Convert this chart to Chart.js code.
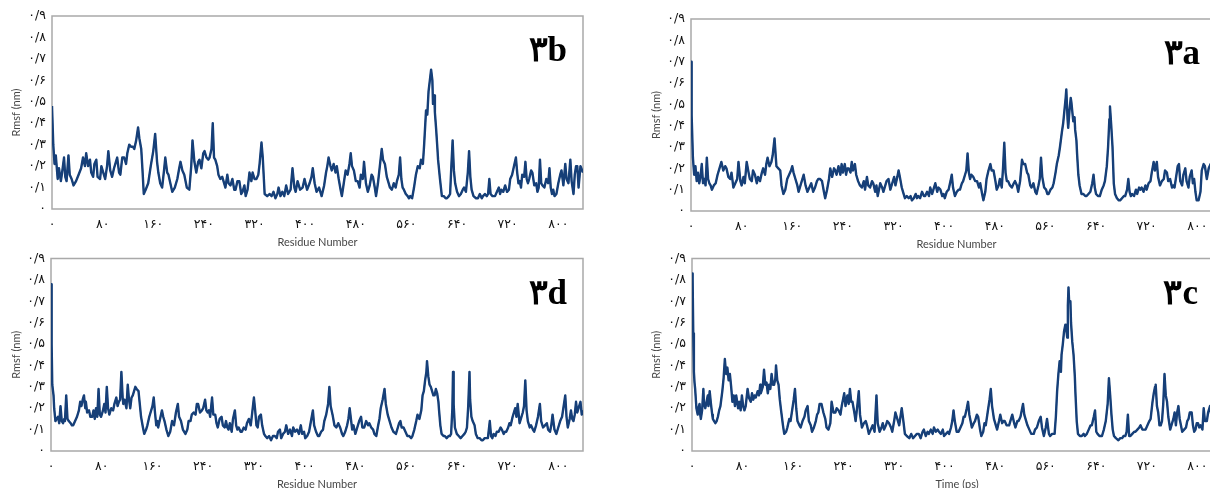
<!DOCTYPE html>
<html>
<head>
<meta charset="utf-8">
<script src="https://cdn.jsdelivr.net/npm/chart.js@4.4.1/dist/chart.umd.min.js"></script>
<style>
  html, body { margin: 0; padding: 0; background: #fff; width: 1210px; height: 488px; overflow: hidden; }
  .panel { position: absolute; }
</style>
</head>
<body>
<canvas id="c3b" class="panel" width="600" height="250" style="left:0;top:0"></canvas>
<canvas id="c3a" class="panel" width="600" height="252" style="left:640px;top:0"></canvas>
<canvas id="c3d" class="panel" width="600" height="247" style="left:0;top:245px"></canvas>
<canvas id="c3c" class="panel" width="600" height="247" style="left:640px;top:245px"></canvas>
<script>
// tick labels (Persian digits, as in the figure)
const xTickValues = [0, 80, 160, 240, 320, 400, 480, 560, 640, 720, 800];
const xTickLabels = ['۰', '۸۰', '۱۶۰', '۲۴۰', '۳۲۰', '۴۰۰', '۴۸۰', '۵۶۰', '۶۴۰', '۷۲۰', '۸۰۰'];
const yTickValues = [0, 0.1, 0.2, 0.3, 0.4, 0.5, 0.6, 0.7, 0.8, 0.9];
const yTickLabels = ['۰', '۰/۱', '۰/۲', '۰/۳', '۰/۴', '۰/۵', '۰/۶', '۰/۷', '۰/۸', '۰/۹'];

// [residue, rmsf nm]
const rmsf3b = [[0,0.48],[2,0.30],[4,0.21],[6,0.25],[9,0.14],[11,0.19],[14,0.13],[16,0.17],[19,0.24],[21,0.15],[23,0.13],[26,0.25],[28,0.16],[31,0.14],[34,0.11],[38,0.13],[42,0.16],[46,0.19],[49,0.24],[52,0.20],[54,0.26],[57,0.20],[60,0.23],[62,0.17],[65,0.15],[67,0.21],[70,0.23],[72,0.15],[76,0.14],[78,0.20],[81,0.17],[84,0.14],[87,0.20],[89,0.27],[92,0.18],[95,0.15],[98,0.19],[101,0.22],[103,0.24],[106,0.17],[108,0.16],[111,0.24],[114,0.24],[117,0.21],[119,0.26],[122,0.30],[125,0.29],[128,0.29],[130,0.28],[133,0.32],[136,0.38],[138,0.33],[141,0.28],[143,0.18],[145,0.07],[148,0.09],[152,0.12],[156,0.20],[160,0.27],[163,0.35],[166,0.22],[168,0.17],[171,0.12],[174,0.10],[177,0.18],[179,0.24],[182,0.17],[184,0.16],[187,0.12],[190,0.08],[194,0.10],[198,0.14],[201,0.19],[203,0.22],[206,0.18],[209,0.16],[213,0.10],[217,0.09],[220,0.20],[222,0.32],[225,0.22],[228,0.17],[231,0.22],[233,0.23],[236,0.19],[239,0.26],[241,0.27],[244,0.24],[247,0.23],[249,0.24],[252,0.28],[254,0.40],[256,0.24],[258,0.23],[261,0.20],[263,0.16],[266,0.14],[269,0.15],[271,0.13],[274,0.10],[277,0.16],[279,0.12],[282,0.11],[285,0.14],[288,0.09],[290,0.09],[293,0.13],[296,0.13],[299,0.07],[301,0.08],[304,0.11],[306,0.06],[309,0.09],[312,0.17],[315,0.13],[317,0.17],[320,0.14],[323,0.14],[326,0.16],[328,0.21],[331,0.31],[333,0.24],[336,0.07],[340,0.06],[344,0.07],[347,0.06],[350,0.08],[353,0.05],[356,0.07],[358,0.10],[361,0.06],[364,0.08],[367,0.06],[370,0.11],[373,0.07],[377,0.09],[380,0.19],[383,0.10],[385,0.08],[388,0.13],[392,0.09],[396,0.10],[399,0.14],[403,0.09],[407,0.12],[410,0.15],[412,0.19],[415,0.12],[418,0.08],[422,0.10],[426,0.06],[430,0.11],[433,0.17],[435,0.20],[437,0.24],[440,0.20],[442,0.18],[445,0.21],[448,0.17],[450,0.20],[453,0.14],[456,0.09],[458,0.06],[461,0.12],[464,0.18],[467,0.16],[470,0.21],[472,0.26],[474,0.20],[477,0.18],[480,0.13],[483,0.13],[486,0.10],[488,0.16],[491,0.14],[493,0.22],[496,0.12],[499,0.08],[502,0.11],[505,0.16],[507,0.15],[510,0.10],[512,0.06],[515,0.12],[518,0.20],[521,0.28],[523,0.23],[526,0.21],[529,0.15],[531,0.13],[534,0.10],[537,0.09],[540,0.12],[543,0.10],[545,0.13],[548,0.16],[550,0.24],[552,0.14],[554,0.10],[556,0.09],[559,0.07],[562,0.06],[564,0.05],[566,0.06],[569,0.05],[572,0.10],[575,0.16],[578,0.20],[581,0.19],[583,0.23],[586,0.21],[588,0.30],[591,0.46],[593,0.44],[595,0.55],[597,0.60],[599,0.65],[601,0.60],[602,0.49],[604,0.53],[605,0.45],[607,0.37],[609,0.28],[610,0.23],[613,0.14],[616,0.06],[619,0.06],[622,0.05],[624,0.05],[627,0.06],[629,0.07],[631,0.20],[633,0.32],[635,0.18],[637,0.12],[640,0.08],[643,0.06],[646,0.07],[649,0.09],[651,0.10],[654,0.08],[657,0.17],[659,0.27],[661,0.15],[663,0.09],[666,0.06],[670,0.05],[673,0.05],[676,0.07],[679,0.05],[681,0.06],[684,0.07],[687,0.06],[689,0.07],[691,0.14],[693,0.07],[696,0.06],[700,0.06],[703,0.08],[706,0.10],[708,0.07],[710,0.09],[713,0.08],[716,0.11],[719,0.08],[722,0.09],[724,0.14],[727,0.16],[730,0.20],[733,0.24],[735,0.17],[737,0.12],[739,0.13],[741,0.10],[743,0.16],[746,0.15],[748,0.22],[750,0.14],[752,0.12],[754,0.14],[757,0.18],[759,0.17],[762,0.11],[765,0.12],[767,0.08],[769,0.10],[771,0.23],[773,0.12],[775,0.11],[778,0.10],[781,0.14],[784,0.12],[786,0.19],[788,0.10],[790,0.07],[792,0.09],[794,0.06],[797,0.07],[800,0.12],[803,0.16],[805,0.18],[808,0.11],[811,0.21],[813,0.14],[816,0.12],[819,0.23],[821,0.13],[824,0.07],[826,0.16],[828,0.20],[830,0.20],[832,0.10],[835,0.20],[839,0.17]];

const rmsf3a = [[0,0.70],[1,0.45],[3,0.25],[5,0.17],[7,0.21],[9,0.14],[11,0.18],[13,0.13],[15,0.16],[17,0.22],[19,0.13],[21,0.15],[23,0.12],[25,0.25],[27,0.15],[29,0.13],[31,0.12],[33,0.10],[36,0.12],[39,0.13],[42,0.17],[45,0.20],[48,0.23],[51,0.19],[54,0.21],[56,0.20],[59,0.16],[62,0.15],[64,0.18],[67,0.11],[70,0.13],[73,0.15],[75,0.23],[78,0.14],[80,0.12],[83,0.16],[85,0.13],[88,0.23],[91,0.18],[93,0.15],[96,0.14],[98,0.19],[101,0.17],[104,0.13],[106,0.16],[109,0.14],[112,0.18],[114,0.20],[117,0.17],[119,0.22],[121,0.25],[124,0.21],[127,0.23],[129,0.26],[132,0.34],[134,0.25],[135,0.21],[138,0.20],[141,0.19],[143,0.12],[146,0.08],[149,0.10],[152,0.15],[155,0.17],[158,0.19],[160,0.21],[162,0.18],[165,0.15],[168,0.12],[170,0.09],[173,0.12],[176,0.15],[178,0.17],[181,0.12],[184,0.09],[187,0.11],[190,0.13],[193,0.09],[196,0.11],[199,0.14],[201,0.15],[204,0.15],[207,0.14],[210,0.09],[212,0.06],[215,0.10],[218,0.15],[220,0.20],[223,0.16],[226,0.20],[228,0.19],[230,0.17],[233,0.21],[236,0.17],[238,0.22],[240,0.18],[243,0.22],[245,0.17],[247,0.20],[249,0.20],[252,0.18],[254,0.23],[256,0.19],[259,0.22],[261,0.17],[264,0.14],[267,0.12],[270,0.11],[273,0.14],[275,0.10],[278,0.16],[280,0.12],[283,0.11],[286,0.14],[288,0.13],[291,0.09],[293,0.12],[295,0.07],[297,0.10],[299,0.13],[302,0.11],[304,0.09],[307,0.12],[309,0.14],[312,0.15],[315,0.10],[318,0.13],[321,0.16],[323,0.12],[326,0.16],[328,0.19],[330,0.16],[333,0.11],[335,0.09],[338,0.06],[341,0.07],[344,0.06],[347,0.07],[349,0.05],[352,0.06],[355,0.08],[357,0.06],[359,0.07],[362,0.06],[365,0.09],[368,0.07],[370,0.07],[373,0.09],[376,0.07],[378,0.11],[381,0.08],[383,0.10],[386,0.13],[389,0.09],[391,0.11],[394,0.10],[397,0.07],[399,0.08],[401,0.06],[404,0.09],[407,0.10],[410,0.14],[412,0.17],[414,0.11],[417,0.07],[420,0.09],[423,0.10],[425,0.10],[428,0.13],[430,0.14],[433,0.17],[435,0.19],[437,0.27],[439,0.18],[441,0.15],[443,0.17],[446,0.16],[449,0.14],[452,0.14],[455,0.11],[457,0.13],[460,0.08],[462,0.05],[465,0.09],[467,0.15],[470,0.19],[473,0.22],[475,0.19],[478,0.19],[481,0.14],[483,0.10],[486,0.12],[488,0.15],[491,0.11],[493,0.20],[495,0.32],[497,0.18],[499,0.14],[501,0.14],[504,0.12],[507,0.11],[510,0.13],[512,0.14],[515,0.12],[517,0.09],[520,0.14],[523,0.24],[525,0.22],[528,0.22],[531,0.18],[533,0.17],[536,0.12],[538,0.11],[541,0.13],[544,0.09],[546,0.08],[549,0.12],[551,0.15],[553,0.25],[555,0.16],[558,0.11],[561,0.10],[563,0.08],[565,0.08],[568,0.10],[571,0.11],[573,0.13],[576,0.18],[578,0.22],[581,0.26],[583,0.30],[586,0.37],[588,0.41],[590,0.47],[592,0.53],[593,0.57],[595,0.43],[596,0.39],[598,0.47],[600,0.53],[601,0.51],[603,0.45],[604,0.42],[606,0.44],[607,0.38],[609,0.33],[610,0.27],[612,0.17],[614,0.12],[617,0.08],[620,0.08],[623,0.07],[625,0.07],[628,0.08],[631,0.09],[634,0.13],[636,0.17],[638,0.11],[640,0.08],[643,0.07],[646,0.07],[649,0.10],[652,0.12],[654,0.14],[657,0.21],[659,0.30],[661,0.43],[662,0.49],[664,0.40],[666,0.30],[668,0.13],[670,0.08],[673,0.06],[676,0.05],[678,0.05],[681,0.06],[684,0.07],[686,0.07],[689,0.10],[691,0.15],[693,0.09],[695,0.07],[697,0.08],[700,0.07],[703,0.10],[705,0.08],[708,0.11],[710,0.10],[712,0.11],[715,0.09],[718,0.12],[720,0.10],[723,0.13],[726,0.14],[728,0.18],[731,0.23],[733,0.19],[736,0.23],[738,0.16],[741,0.12],[744,0.14],[747,0.15],[749,0.19],[752,0.18],[754,0.14],[757,0.15],[760,0.11],[762,0.12],[764,0.11],[767,0.17],[769,0.21],[771,0.22],[773,0.14],[776,0.12],[778,0.17],[781,0.20],[783,0.14],[786,0.11],[788,0.16],[791,0.19],[793,0.13],[795,0.15],[797,0.09],[799,0.05],[802,0.05],[805,0.09],[807,0.19],[810,0.22],[812,0.21],[815,0.15],[818,0.20],[821,0.22],[825,0.18],[830,0.20],[835,0.16],[839,0.19]];

const rmsf3d = [[0,0.78],[1,0.50],[2,0.31],[4,0.26],[5,0.20],[7,0.14],[9,0.15],[11,0.16],[13,0.13],[15,0.21],[17,0.14],[19,0.13],[21,0.15],[22,0.14],[24,0.26],[26,0.15],[28,0.14],[31,0.13],[33,0.12],[35,0.12],[38,0.14],[41,0.16],[44,0.19],[46,0.23],[48,0.21],[50,0.24],[52,0.26],[54,0.20],[55,0.23],[57,0.18],[60,0.19],[62,0.16],[65,0.16],[67,0.19],[69,0.15],[71,0.20],[73,0.16],[75,0.29],[77,0.17],[79,0.16],[82,0.19],[84,0.22],[86,0.18],[88,0.30],[90,0.20],[92,0.17],[95,0.20],[98,0.19],[100,0.22],[103,0.25],[105,0.21],[107,0.23],[109,0.24],[111,0.37],[113,0.25],[114,0.22],[116,0.24],[119,0.20],[121,0.31],[123,0.24],[125,0.20],[127,0.25],[129,0.26],[131,0.28],[133,0.30],[135,0.29],[138,0.28],[140,0.22],[142,0.16],[145,0.11],[147,0.08],[150,0.10],[152,0.12],[155,0.16],[157,0.18],[160,0.21],[162,0.25],[164,0.18],[166,0.12],[168,0.14],[169,0.11],[172,0.15],[175,0.19],[177,0.16],[179,0.14],[182,0.10],[185,0.07],[188,0.09],[191,0.14],[194,0.12],[197,0.18],[200,0.22],[202,0.16],[205,0.14],[208,0.10],[212,0.08],[215,0.10],[217,0.14],[220,0.14],[222,0.17],[225,0.18],[228,0.17],[230,0.22],[232,0.22],[235,0.18],[238,0.19],[240,0.20],[243,0.24],[245,0.19],[247,0.18],[249,0.19],[251,0.16],[254,0.25],[256,0.17],[259,0.17],[261,0.13],[263,0.11],[266,0.15],[269,0.16],[271,0.12],[274,0.11],[276,0.14],[278,0.11],[280,0.10],[282,0.13],[285,0.09],[287,0.15],[290,0.19],[292,0.12],[294,0.10],[296,0.11],[299,0.09],[301,0.09],[304,0.11],[307,0.10],[309,0.13],[312,0.15],[315,0.12],[317,0.17],[320,0.25],[322,0.19],[324,0.12],[326,0.11],[328,0.16],[331,0.17],[333,0.12],[336,0.08],[338,0.07],[341,0.06],[344,0.07],[347,0.05],[350,0.07],[353,0.07],[356,0.06],[358,0.09],[361,0.10],[363,0.06],[366,0.08],[369,0.09],[371,0.12],[374,0.08],[377,0.10],[380,0.07],[382,0.11],[385,0.09],[388,0.10],[391,0.08],[394,0.12],[396,0.08],[399,0.09],[401,0.06],[404,0.07],[407,0.09],[410,0.14],[413,0.19],[415,0.12],[418,0.09],[421,0.07],[423,0.07],[426,0.09],[429,0.10],[431,0.14],[434,0.17],[437,0.22],[439,0.30],[441,0.21],[444,0.17],[447,0.12],[450,0.11],[453,0.13],[456,0.11],[459,0.08],[461,0.07],[464,0.09],[467,0.12],[469,0.15],[471,0.20],[473,0.15],[475,0.10],[477,0.12],[480,0.08],[483,0.11],[486,0.14],[489,0.16],[491,0.11],[494,0.11],[497,0.14],[500,0.12],[502,0.13],[505,0.11],[508,0.10],[510,0.08],[513,0.07],[516,0.12],[518,0.15],[520,0.20],[523,0.24],[526,0.29],[528,0.22],[531,0.17],[534,0.14],[537,0.11],[540,0.09],[544,0.08],[547,0.11],[549,0.13],[551,0.14],[553,0.11],[556,0.11],[559,0.09],[562,0.07],[565,0.07],[568,0.06],[570,0.07],[573,0.10],[576,0.14],[578,0.17],[581,0.15],[584,0.19],[586,0.26],[588,0.28],[590,0.33],[592,0.37],[593,0.42],[595,0.35],[597,0.31],[599,0.30],[601,0.28],[603,0.26],[605,0.26],[607,0.29],[609,0.27],[611,0.23],[612,0.19],[614,0.12],[616,0.08],[619,0.07],[621,0.07],[624,0.06],[627,0.07],[629,0.07],[631,0.08],[633,0.20],[634,0.37],[635,0.22],[637,0.11],[640,0.08],[643,0.07],[646,0.06],[649,0.07],[652,0.08],[654,0.09],[656,0.11],[658,0.21],[660,0.37],[661,0.24],[663,0.16],[665,0.14],[668,0.12],[670,0.08],[673,0.06],[676,0.06],[679,0.05],[681,0.05],[684,0.06],[687,0.06],[689,0.06],[692,0.14],[694,0.07],[696,0.06],[698,0.08],[701,0.07],[703,0.09],[706,0.09],[709,0.11],[711,0.10],[714,0.08],[716,0.09],[718,0.09],[721,0.11],[723,0.13],[725,0.12],[728,0.16],[730,0.18],[732,0.20],[734,0.16],[736,0.22],[738,0.16],[739,0.13],[741,0.15],[744,0.18],[746,0.21],[748,0.33],[750,0.19],[752,0.14],[755,0.11],[757,0.12],[760,0.10],[762,0.09],[765,0.12],[768,0.16],[771,0.22],[773,0.14],[776,0.11],[779,0.12],[782,0.13],[784,0.10],[787,0.09],[789,0.12],[791,0.17],[794,0.10],[797,0.08],[800,0.11],[803,0.14],[806,0.16],[808,0.20],[811,0.26],[813,0.16],[815,0.11],[818,0.15],[820,0.19],[822,0.15],[824,0.14],[826,0.17],[828,0.23],[830,0.18],[832,0.20],[834,0.22],[835,0.23],[837,0.17],[839,0.19]];

const rmsf3c = [[0,0.83],[1,0.80],[2,0.55],[3,0.37],[4,0.32],[5,0.29],[7,0.20],[9,0.17],[10,0.20],[12,0.22],[13,0.17],[14,0.15],[16,0.19],[18,0.29],[19,0.22],[21,0.20],[23,0.23],[25,0.26],[26,0.21],[28,0.28],[30,0.22],[32,0.17],[33,0.15],[35,0.14],[37,0.13],[39,0.14],[41,0.16],[43,0.19],[45,0.21],[48,0.28],[50,0.34],[52,0.43],[54,0.36],[56,0.39],[58,0.33],[60,0.36],[62,0.30],[64,0.23],[66,0.26],[68,0.21],[70,0.26],[72,0.22],[73,0.20],[75,0.23],[77,0.19],[79,0.26],[81,0.21],[83,0.19],[85,0.21],[88,0.29],[90,0.25],[93,0.23],[95,0.27],[97,0.24],[99,0.26],[101,0.25],[104,0.28],[106,0.26],[108,0.31],[109,0.27],[112,0.30],[114,0.38],[116,0.31],[118,0.32],[120,0.27],[122,0.31],[124,0.29],[126,0.36],[128,0.31],[130,0.31],[132,0.34],[133,0.40],[135,0.33],[137,0.31],[139,0.24],[141,0.19],[144,0.12],[146,0.08],[149,0.09],[151,0.11],[154,0.15],[156,0.14],[159,0.20],[161,0.24],[163,0.29],[165,0.20],[167,0.14],[170,0.12],[172,0.11],[175,0.14],[178,0.16],[180,0.19],[183,0.21],[185,0.14],[188,0.12],[190,0.09],[193,0.11],[196,0.14],[198,0.17],[200,0.18],[202,0.22],[205,0.22],[208,0.18],[211,0.15],[213,0.11],[216,0.10],[219,0.13],[221,0.23],[224,0.18],[227,0.18],[229,0.20],[232,0.19],[235,0.17],[237,0.21],[239,0.24],[241,0.27],[243,0.21],[246,0.26],[248,0.22],[250,0.29],[252,0.23],[254,0.23],[257,0.18],[259,0.14],[262,0.22],[264,0.28],[266,0.17],[269,0.11],[272,0.13],[275,0.14],[277,0.12],[280,0.08],[283,0.10],[286,0.12],[289,0.09],[292,0.26],[294,0.13],[297,0.09],[300,0.11],[302,0.13],[304,0.10],[307,0.12],[309,0.14],[312,0.13],[315,0.11],[317,0.09],[320,0.14],[322,0.18],[325,0.15],[328,0.12],[330,0.16],[332,0.20],[335,0.13],[337,0.08],[340,0.07],[344,0.06],[347,0.08],[350,0.06],[353,0.07],[356,0.08],[359,0.08],[362,0.06],[365,0.09],[367,0.10],[370,0.07],[373,0.09],[375,0.08],[378,0.10],[381,0.08],[383,0.11],[386,0.09],[389,0.10],[391,0.09],[394,0.08],[397,0.10],[399,0.07],[402,0.08],[405,0.09],[407,0.08],[410,0.11],[412,0.14],[414,0.19],[416,0.14],[419,0.09],[422,0.09],[425,0.11],[428,0.13],[430,0.16],[432,0.16],[435,0.20],[437,0.23],[439,0.17],[441,0.14],[443,0.11],[446,0.13],[448,0.14],[451,0.17],[453,0.16],[456,0.10],[458,0.07],[461,0.09],[463,0.13],[465,0.12],[468,0.18],[471,0.24],[473,0.29],[475,0.21],[478,0.15],[481,0.12],[483,0.10],[486,0.14],[488,0.17],[491,0.13],[493,0.14],[495,0.14],[498,0.12],[502,0.12],[505,0.15],[507,0.17],[510,0.13],[512,0.11],[515,0.14],[517,0.14],[520,0.16],[522,0.19],[524,0.22],[526,0.17],[529,0.14],[531,0.12],[534,0.10],[537,0.08],[541,0.08],[543,0.10],[546,0.11],[549,0.14],[552,0.16],[554,0.11],[557,0.07],[560,0.11],[562,0.15],[565,0.08],[567,0.07],[570,0.08],[574,0.08],[576,0.16],[578,0.28],[580,0.36],[582,0.42],[584,0.37],[585,0.45],[587,0.50],[589,0.56],[591,0.59],[592,0.58],[594,0.53],[595,0.68],[596,0.765],[597,0.70],[599,0.70],[600,0.60],[602,0.51],[604,0.45],[606,0.35],[607,0.27],[609,0.14],[611,0.08],[614,0.07],[617,0.07],[620,0.08],[622,0.07],[625,0.08],[628,0.10],[631,0.12],[633,0.12],[636,0.16],[638,0.19],[640,0.09],[642,0.08],[645,0.07],[649,0.07],[652,0.10],[655,0.14],[658,0.22],[660,0.34],[662,0.26],[664,0.17],[666,0.10],[668,0.07],[671,0.06],[675,0.05],[678,0.06],[681,0.06],[683,0.07],[686,0.07],[688,0.09],[690,0.17],[692,0.07],[694,0.07],[697,0.08],[700,0.09],[702,0.09],[705,0.10],[708,0.11],[710,0.12],[713,0.10],[716,0.10],[718,0.10],[721,0.12],[724,0.14],[726,0.15],[729,0.23],[731,0.27],[733,0.30],[734,0.31],[736,0.21],[738,0.18],[740,0.12],[742,0.12],[744,0.14],[746,0.22],[748,0.36],[750,0.26],[752,0.23],[754,0.16],[757,0.10],[760,0.13],[762,0.15],[764,0.18],[766,0.12],[768,0.18],[770,0.21],[772,0.15],[774,0.12],[776,0.09],[779,0.10],[782,0.11],[784,0.14],[786,0.15],[788,0.18],[791,0.18],[793,0.12],[795,0.09],[797,0.10],[799,0.13],[801,0.13],[803,0.11],[805,0.12],[808,0.10],[810,0.20],[812,0.14],[815,0.14],[817,0.18],[820,0.21],[824,0.13],[828,0.17],[832,0.20],[836,0.15],[839,0.18]];

// grey box round the plot area
const frame = {
  id: 'frame',
  beforeDatasetsDraw(chart) {
    const { ctx, chartArea: a } = chart;
    ctx.save();
    ctx.strokeStyle = '#a9a9a9';
    ctx.lineWidth = 1.5;
    ctx.strokeRect(a.left, a.top, a.width, a.height);
    ctx.restore();
  }
};

// "۳b" style tag in the top right corner
const panelLabel = {
  id: 'panelLabel',
  afterDatasetsDraw(chart, args, opts) {
    const { ctx, chartArea: a } = chart;
    ctx.save();
    ctx.font = 'bold 35px "Liberation Serif", "DejaVu Serif", serif';
    ctx.fillStyle = '#000';
    ctx.textAlign = 'right';
    ctx.textBaseline = 'alphabetic';
    ctx.fillText(opts.text, a.right - opts.right, a.top + 45);
    ctx.restore();
  }
};

function makePanel(id, series, label, xTitle, lay) {
  const pts = series.map(p => ({ x: p[0], y: p[1] }));
  new Chart(document.getElementById(id), {
    type: 'line',
    data: {
      datasets: [
        { data: pts, borderColor: '#163f78', borderWidth: 2.4, pointRadius: 0, tension: 0, borderJoinStyle: 'round' },
        { data: pts, borderColor: '#2f73b0', borderWidth: 1.3, pointRadius: 0, tension: 0, borderJoinStyle: 'round' }
      ]
    },
    options: {
      responsive: false,
      animation: false,
      events: [],
      layout: { padding: { top: lay.top, right: lay.right, left: 0, bottom: 0 } },
      plugins: {
        legend: { display: false },
        tooltip: { enabled: false },
        panelLabel: { text: label, right: lay.labelRight }
      },
      scales: {
        x: {
          type: 'linear',
          min: 0,
          max: 839,
          grid: { display: false, drawTicks: false },
          border: { display: false },
          afterBuildTicks: s => { s.ticks = xTickValues.map(v => ({ value: v })); },
          afterFit: s => { s.height = 41; },
          ticks: {
            padding: 8,
            maxRotation: 0,
            color: '#111',
            font: { family: '"DejaVu Sans"', size: 12.5 },
            callback: (v, i) => xTickLabels[i]
          },
          title: {
            display: true,
            text: xTitle,
            color: '#474747',
            padding: { top: 0, bottom: 1 },
            font: { family: 'Lato', size: 11 }
          }
        },
        y: {
          min: 0,
          max: 0.9,
          grid: { display: false, drawTicks: false },
          border: { display: false },
          afterBuildTicks: s => { s.ticks = yTickValues.map(v => ({ value: v })); },
          afterFit: s => { s.width = lay.yWidth; },
          ticks: {
            padding: 6,
            color: '#111',
            font: { family: '"DejaVu Sans"', size: 12.5 },
            callback: (v, i) => yTickLabels[i]
          },
          title: {
            display: true,
            text: 'Rmsf (nm)',
            color: '#474747',
            padding: { top: 10, bottom: 0 },
            font: { family: 'Lato', size: 11 }
          }
        }
      }
    },
    plugins: [frame, panelLabel]
  });
}

makePanel('c3b', rmsf3b, '۳b', 'Residue Number', { top: 16, right: 17, yWidth: 52, labelRight: 16 });
makePanel('c3a', rmsf3a, '۳a', 'Residue Number', { top: 19, right: 18, yWidth: 51, labelRight: 22 });
makePanel('c3d', rmsf3d, '۳d', 'Residue Number', { top: 13, right: 17, yWidth: 51, labelRight: 16 });
makePanel('c3c', rmsf3c, '۳c', 'Time (ps)', { top: 12, right: 18, yWidth: 52, labelRight: 24 });
</script>
</body>
</html>
